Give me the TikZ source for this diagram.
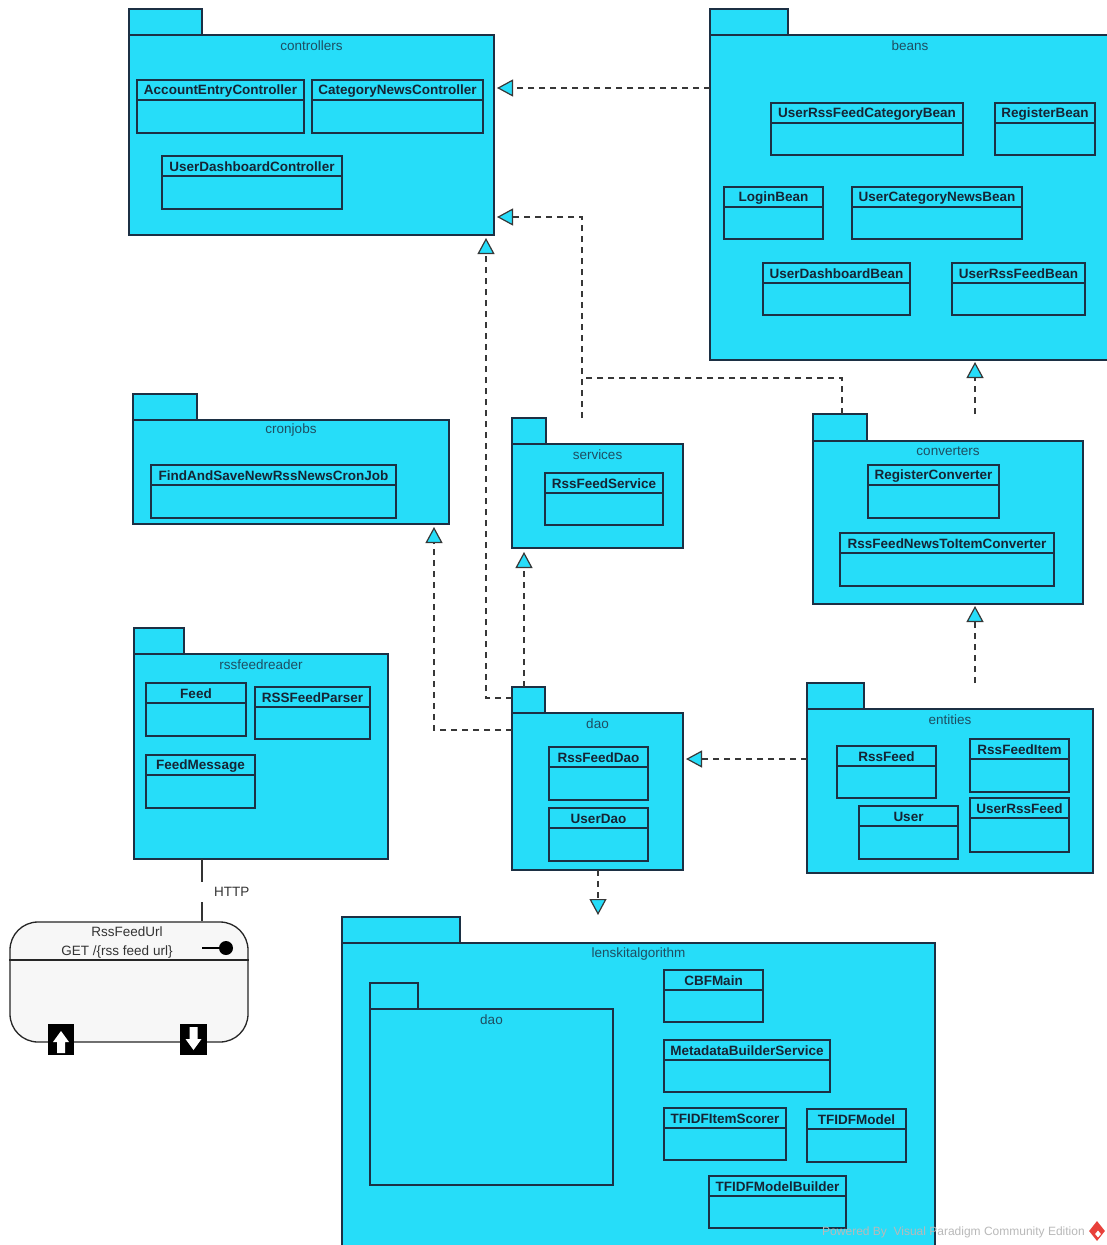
\documentclass[tikz,border=0pt]{standalone}
\usepackage{fontspec}
\setmainfont{Liberation Sans}
\usetikzlibrary{arrows.meta,fit,shapes.geometric}
\definecolor{pkc}{RGB}{38,221,249}
\definecolor{bdr}{RGB}{28,48,68}
\definecolor{lbl}{RGB}{30,78,98}
\definecolor{clst}{RGB}{22,36,52}
\definecolor{conn}{RGB}{55,55,55}
\definecolor{wmgray}{RGB}{185,185,185}
\definecolor{vpred}{RGB}{232,64,58}
\tikzset{
  pkgbox/.style={draw=bdr, fill=pkc, line width=1.2pt, inner sep=0pt, outer sep=0pt},
  clsbox/.style={draw=bdr, fill=pkc, line width=1.2pt, inner sep=0pt, outer sep=0pt},
  pkglabel/.style={text=lbl, font=\fontsize{13.5}{16}\selectfont, inner sep=0pt},
  clstext/.style={text=clst, font=\fontsize{13.5}{16}\selectfont\bfseries, inner sep=0pt},
  depline/.style={draw=conn, line width=1.2pt, dash pattern=on 6pt off 5pt},
  dep/.style={depline, -{Triangle[length=16pt,width=17pt,fill=pkc,line width=1.2pt]}},
  plaintext/.style={text=black!80, font=\fontsize{13.5}{16}\selectfont, inner sep=0pt},
}
\newcommand\umlpkg[8]{%
  \node[pkgbox, fit={(#2,#3) (#4,#5)}] (#1tab) {};
  \node[pkgbox, fit={(#2,#5) (#6,#7)}] (#1) {};
  \node[pkglabel] (#1lbl) at ([yshift=-10.5pt]#1.north) {#8};
}
\newcommand\umlclass[6]{%
  \node[clsbox, fit={(#2,#3) (#4,#5)}] (#1) {};
  \draw[draw=bdr, line width=1.2pt] ([yshift=-20pt]#1.north west) -- ([yshift=-20pt]#1.north east);
  \node[clstext] (#1t) at ([yshift=-11pt]#1.north) {#6};
}
\begin{document}
\begin{tikzpicture}[x=1pt,y=-1pt]
\useasboundingbox[fill=white] (0,0) rectangle (1106,1245);

% packages
\umlpkg{ctrl}{129}{9}{202}{35}{494}{235}{controllers}
\umlpkg{beans}{710}{9}{788}{35}{1110}{360}{beans}
\umlpkg{cron}{133}{394}{197}{420}{449}{524}{cronjobs}
\umlpkg{svc}{512}{418}{546}{444}{683}{548}{services}
\umlpkg{conv}{813}{414}{867}{441}{1083}{604}{converters}
\umlpkg{rfr}{134}{628}{184}{654}{388}{859}{rssfeedreader}
\umlpkg{dao}{512}{687}{545}{713}{683}{870}{dao}
\umlpkg{ent}{807}{683}{864}{709}{1093}{873}{entities}
\umlpkg{lk}{342}{917}{460}{943}{935}{1252}{lenskitalgorithm}
\umlpkg{lkdao}{370}{983}{418}{1009}{613}{1185}{dao}

% classes
\umlclass{aec}{137}{80}{304}{133}{AccountEntryController}
\umlclass{cnc}{312}{80}{483}{133}{CategoryNewsController}
\umlclass{udc}{162}{156}{342}{209}{UserDashboardController}

\umlclass{urfcb}{771}{103}{963}{155}{UserRssFeedCategoryBean}
\umlclass{regb}{995}{103}{1095}{155}{RegisterBean}
\umlclass{logb}{724}{187}{823}{239}{LoginBean}
\umlclass{ucnb}{852}{187}{1022}{239}{UserCategoryNewsBean}
\umlclass{udb}{763}{263}{910}{315}{UserDashboardBean}
\umlclass{urfb}{952}{263}{1085}{315}{UserRssFeedBean}

\umlclass{fas}{151}{465}{396}{518}{FindAndSaveNewRssNewsCronJob}
\umlclass{rfs}{545}{473}{663}{525}{RssFeedService}
\umlclass{regc}{868}{465}{999}{518}{RegisterConverter}
\umlclass{rfnc}{840}{533}{1054}{586}{RssFeedNewsToItemConverter}

\umlclass{feed}{146}{683}{246}{736}{Feed}
\umlclass{rfp}{255}{687}{370}{739}{RSSFeedParser}
\umlclass{fm}{146}{755}{255}{808}{FeedMessage}

\umlclass{rfd}{549}{747}{648}{800}{RssFeedDao}
\umlclass{ud}{549}{808}{648}{861}{UserDao}

\umlclass{rf}{837}{746}{936}{798}{RssFeed}
\umlclass{rfi}{970}{739}{1069}{792}{RssFeedItem}
\umlclass{usr}{859}{806}{958}{859}{User}
\umlclass{urf}{970}{798}{1069}{852}{UserRssFeed}

\umlclass{cbf}{664}{970}{763}{1022}{CBFMain}
\umlclass{mbs}{664}{1040}{830}{1092}{MetadataBuilderService}
\umlclass{tis}{664}{1108}{786}{1160}{TFIDFItemScorer}
\umlclass{tm}{807}{1109}{906}{1162}{TFIDFModel}
\umlclass{tmb}{709}{1176}{846}{1228}{TFIDFModelBuilder}

% dependencies
\draw[dep, shorten >=3pt] (beans.west |- 0,88) -- (ctrl.east |- 0,88);
\draw[dep, shorten >=3pt] (svctab.north -| 582,0) |- (ctrl.east |- 0,217);
\coordinate (j1) at (582,378);
\draw[depline] (convtab.north -| 842,0) |- (j1);
\draw[dep, shorten >=3pt] (daotab.west |- 0,698) -| (ctrl.south -| 486,0);
\draw[dep, shorten >=3pt] (dao.west |- 0,730) -| (cron.south -| 434,0);
\draw[dep, shorten >=4pt] (daotab.north -| 524,0) -- (svc.south -| 524,0);
\draw[dep, shorten >=2pt] (convtab.north -| 975,0) -- (beans.south -| 975,0);
\draw[dep, shorten >=2pt] (enttab.north -| 975,0) -- (conv.south -| 975,0);
\draw[dep, shorten >=3pt] (ent.west |- 0,759) -- (dao.east |- 0,759);
\draw[dep, shorten >=2pt] (dao.south -| 598,0) -- (lktab.north -| 598,0);

% RssFeedUrl interface
\node[draw=black!85, fill=black!3, line width=1.3pt, rounded corners=28pt, inner sep=0pt, fit={(10,922) (248,1042)}] (url) {};
\draw[black!85, line width=1.3pt] (url.west |- 0,960) -- (url.east |- 0,960);
\node[plaintext] (urlname) at (127,932) {RssFeedUrl};
\node[plaintext] (urlget) at (117,952) {GET /\{rss feed url\}};
\node[circle, fill=black, minimum size=14pt, inner sep=0pt] (lolli) at (226,948) {};
\draw[black, line width=1.5pt] (lolli.west) -- ++(-17,0);
\node[fill=black, minimum width=26pt, minimum height=31pt, inner sep=0pt] (portin) at (61,1039.5) {};
\node[fill=black, minimum width=27pt, minimum height=31pt, inner sep=0pt] (portout) at (193.5,1039.5) {};
\fill[white] (57,1053) -- (57,1042) -- (53,1042) -- (61,1031) -- (69,1042) -- (65,1042) -- (65,1053) -- cycle;
\fill[white] (189.5,1027) -- (189.5,1039) -- (185.5,1039) -- (193.5,1050) -- (201.5,1039) -- (197.5,1039) -- (197.5,1027) -- cycle;

% HTTP link
\coordinate (g1) at (202,882);
\coordinate (g2) at (202,902);
\draw[black!80, line width=1.2pt] (rfr.south -| g1) -- (g1);
\draw[black!80, line width=1.2pt] (g2) -- (url.north -| g2);
\node[plaintext, anchor=west] (http) at (214,892) {HTTP};

% watermark
\node[text=wmgray, font=\fontsize{12}{14}\selectfont, anchor=east, inner sep=0pt] (wm) at (1085,1232) {Powered By\ \ Visual Paradigm Community Edition};
\node[diamond, fill=vpred, minimum width=16pt, minimum height=20pt, inner sep=0pt] (wmlogo) at (1097,1231) {};
\node[diamond, fill=white, minimum width=6pt, minimum height=7pt, inner sep=0pt] (wmlogoin) at (1098,1234) {};
\end{tikzpicture}
\end{document}
